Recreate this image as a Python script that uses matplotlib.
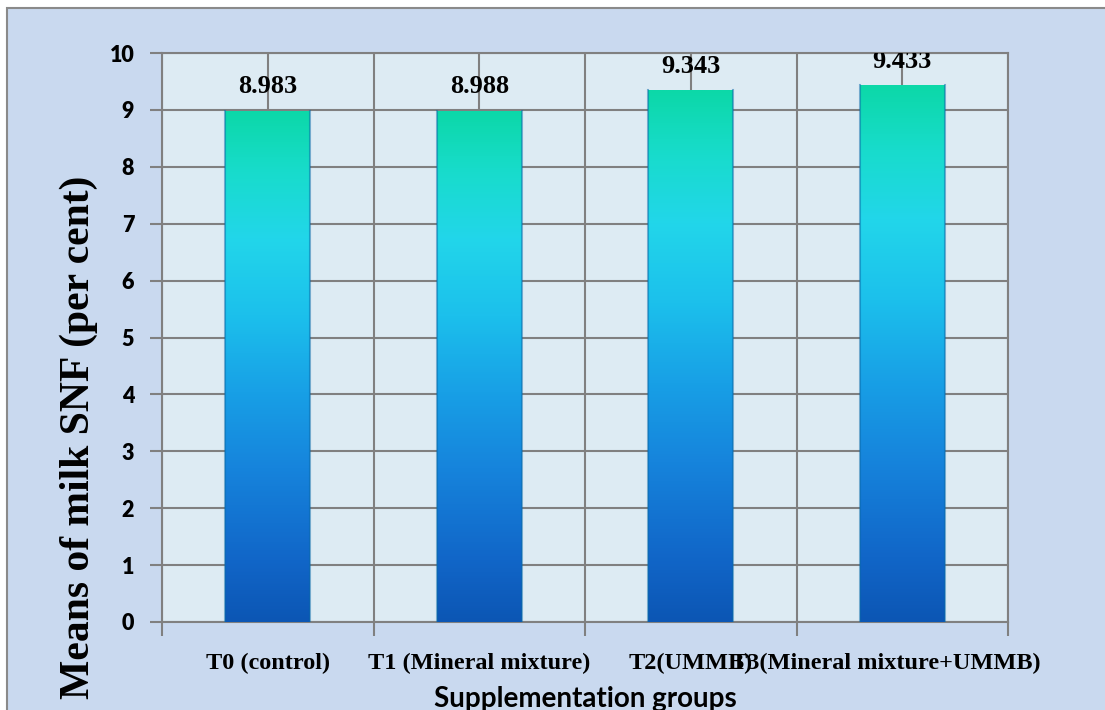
import numpy as np
import matplotlib
matplotlib.use('Agg')
import matplotlib.pyplot as plt
import matplotlib.transforms as mtransforms
from matplotlib.colors import LinearSegmentedColormap
from matplotlib.patches import Rectangle

groups = ['T0 (control)', 'T1 (Mineral mixture)', 'T2(UMMB)', 'T3(Mineral mixture+UMMB)']
snf_means = [8.983, 8.988, 9.343, 9.433]
value_labels = ['8.983', '8.988', '9.343', '9.433']
yticks = list(range(0, 11))

bar_cmap = LinearSegmentedColormap.from_list('bar', [
    (0.00, '#0c56b4'), (0.12, '#1166c8'), (0.30, '#1684dc'), (0.45, '#18a0e6'),
    (0.60, '#1cc0ec'), (0.75, '#22d6ea'), (0.88, '#18dccc'), (1.00, '#0cd8a8')])

fig = plt.figure(figsize=(11.05, 7.1), dpi=100)
fig.patch.set_facecolor('white')

# chart frame with pale blue fill
frame = Rectangle((7 / 1105, -0.1), 1.2, 1.1 - 8 / 710, transform=fig.transFigure,
                  facecolor='#c9d9ef', edgecolor='#8a8a8a', linewidth=1.5, zorder=-10)
fig.patches.append(frame)

ax = fig.add_axes([162 / 1105, 1 - 622 / 710, (1008 - 162) / 1105, (622 - 53) / 710])
ax.set_facecolor('#ddebf3')

x = np.arange(len(groups))
bars = ax.bar(x, snf_means, width=0.4, color='none', edgecolor='none', zorder=3)

grad = np.linspace(0, 1, 256).reshape(-1, 1)
for b in bars:
    x0, w, h = b.get_x(), b.get_width(), b.get_height()
    im = ax.imshow(grad, cmap=bar_cmap, origin='lower', aspect='auto',
                   extent=(x0, x0 + w, 0, h), zorder=3)
    im.set_clip_path(b)
    # darker bevel on the sides
    ax.plot([x0, x0], [0, h], color='#0b6aa8', lw=1.5, alpha=0.5, zorder=4)
    ax.plot([x0 + w, x0 + w], [0, h], color='#0b6aa8', lw=1.5, alpha=0.5, zorder=4)

for xi, v, lab in zip(x, snf_means, value_labels):
    ax.annotate(lab, (xi, v), xytext=(0, 9), textcoords='offset points',
                ha='center', va='bottom', fontsize=19, fontweight='bold',
                family='Liberation Serif', annotation_clip=False, clip_on=True, zorder=5)

ax.set_xlim(-0.5, len(groups) - 0.5)
ax.set_ylim(0, 10)
ax.set_yticks(yticks)
ax.set_xticks(x)
ax.set_xticks(np.arange(-0.5, len(groups), 1.0), minor=True)
ax.set_xticklabels(groups, fontsize=17.5, fontweight='bold', family='Liberation Serif')
ax.tick_params(axis='x', which='major', length=0, pad=22)
ax.tick_params(axis='x', which='minor', length=10, width=1.5, color='#808080', direction='out')
ax.tick_params(axis='y', length=9, width=1.5, color='#808080', pad=11)
for t in ax.get_yticklabels():
    t.set_fontsize(15.5)
    t.set_fontweight('heavy')
    t.set_family('Lato')

# last label runs into the right edge, nudge it left
last = ax.get_xticklabels()[-1]
last.set_transform(last.get_transform() +
                   mtransforms.ScaledTranslation(-16 / 100, 0, fig.dpi_scale_trans))

ax.grid(True, which='both', axis='x', color='#808080', lw=1.5, zorder=0)
ax.grid(True, which='major', axis='y', color='#808080', lw=1.5, zorder=0)
ax.set_axisbelow(True)
for s in ax.spines.values():
    s.set_color('#808080')
    s.set_linewidth(1.5)

ax.set_ylabel('Means of milk SNF (per cent)', fontsize=30, fontweight='bold',
              family='Liberation Serif')
ax.yaxis.set_label_coords((98 - 162) / 846, (622 - 437) / 569)
ax.set_xlabel('Supplementation groups', fontsize=20, fontweight='bold', family='Lato')
ax.xaxis.label.set_va('baseline')
ax.xaxis.set_label_coords(0.5, (622 - 707) / 569)

fig.savefig('out.png', dpi=100, facecolor=fig.get_facecolor())
